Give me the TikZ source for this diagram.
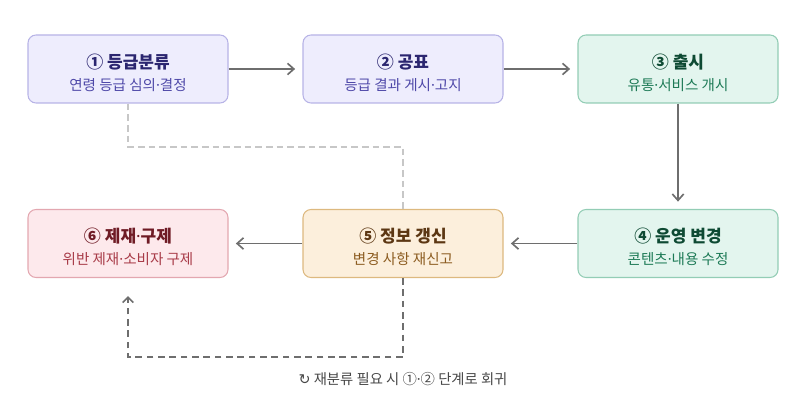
\documentclass[tikz,border=0pt]{standalone}
\usepackage{fontspec}
\setmainfont{Noto Sans CJK KR}
\newfontfamily\symfont{DejaVu Sans}
\newfontfamily\latinfont{Noto Sans}
\newcommand\mdot{{\latinfont ·}}
\usepackage{xcolor}
\usepackage{tikz}
\usetikzlibrary{arrows.meta,positioning,calc}
\definecolor{gradefill}{HTML}{EEEDFD}
\definecolor{gradeline}{HTML}{B7B3E6}
\definecolor{gradetitle}{HTML}{2B2670}
\definecolor{gradesub}{HTML}{4E48A8}
\definecolor{runfill}{HTML}{E3F5EE}
\definecolor{runline}{HTML}{93CDB5}
\definecolor{runtitle}{HTML}{0E4A33}
\definecolor{runsub}{HTML}{1D7A56}
\definecolor{infofill}{HTML}{FCEFDC}
\definecolor{infoline}{HTML}{DDB97F}
\definecolor{infotitle}{HTML}{5C3713}
\definecolor{infosub}{HTML}{8C5C20}
\definecolor{penfill}{HTML}{FDE9EC}
\definecolor{penline}{HTML}{E3A7B0}
\definecolor{pentitle}{HTML}{6F1B25}
\definecolor{pensub}{HTML}{A83B48}
\definecolor{flowgray}{HTML}{6E6E6E}

\begin{document}
\begin{tikzpicture}[
    x=0.75pt, y=-0.75pt,
    box/.style={rounded corners=6pt, line width=0.8pt, minimum width=150pt, minimum height=51pt, inner sep=0pt},
    steptitle/.style={font=\fontsize{12.75}{15}\selectfont\bfseries},
    stepsub/.style={font=\fontsize{10.9}{12}\selectfont},
    flow/.style={line width=1.25pt, draw=flowgray, -{Straight Barb[length=4.8pt,width=8.5pt]}, shorten >=5.5pt},
    backdash/.style={line width=1pt, draw=black!22, dash pattern=on 5pt off 3pt},
    loopdash/.style={line width=1.3pt, draw=flowgray, dash pattern=on 5pt off 3.5pt, -{Straight Barb[length=4pt,width=8pt]}, shorten >=13.5pt}
]
    \useasboundingbox (0,0) rectangle (805,413);

    % Top row
    \node[box, draw=gradeline, fill=gradefill] (n1) at (128,69) {};
    \node[steptitle, text=gradetitle] (t1) at (128,62) {① 등급분류};
    \node[stepsub, text=gradesub] (s1) at (128,85) {연령 등급 심의\mdot 결정};

    \node[box, draw=gradeline, fill=gradefill] (n2) at (403,69) {};
    \node[steptitle, text=gradetitle] (t2) at (403,62) {② 공표};
    \node[stepsub, text=gradesub] (s2) at (403,85) {등급 결과 게시\mdot 고지};

    \node[box, draw=runline, fill=runfill] (n3) at (678,69) {};
    \node[steptitle, text=runtitle] (t3) at (678,62) {③ 출시};
    \node[stepsub, text=runsub] (s3) at (678,85) {유통\mdot 서비스 개시};

    % Bottom row
    \node[box, draw=runline, fill=runfill] (n4) at (678,243.5) {};
    \node[steptitle, text=runtitle] (t4) at (678,236.5) {④ 운영 변경};
    \node[stepsub, text=runsub] (s4) at (678,259.5) {콘텐츠\mdot 내용 수정};

    \node[box, draw=infoline, fill=infofill] (n5) at (403,243.5) {};
    \node[steptitle, text=infotitle] (t5) at (403,236.5) {⑤ 정보 갱신};
    \node[stepsub, text=infosub] (s5) at (403,259.5) {변경 사항 재신고};

    \node[box, draw=penline, fill=penfill] (n6) at (128,243.5) {};
    \node[steptitle, text=pentitle] (t6) at (128,236.5) {⑥ 제재\mdot 구제};
    \node[stepsub, text=pensub] (s6) at (128,259.5) {위반 제재\mdot 소비자 구제};

    % Main flow
    \draw[flow] (n1) -- (n2);
    \draw[flow] (n2) -- (n3);
    \draw[flow] (n3) -- (n4);
    \draw[flow] (n4) -- (n5);
    \draw[flow] (n5) -- (n6);

    % Reclassification links
    \coordinate (jtop) at (128,147);
    \coordinate (jbot) at (403,357);
    \draw[backdash] (n1.south) -- (jtop) -| (n5.north);
    \draw[loopdash] (n5.south) -- (jbot) -| (n6.south);

    \node[font=\fontsize{10.75}{12}\selectfont, text=black!72] (memo) at (403,379) {{\symfont ↻} 재분류 필요 시 ①\mdot ② 단계로 회귀};

\end{tikzpicture}
\end{document}
